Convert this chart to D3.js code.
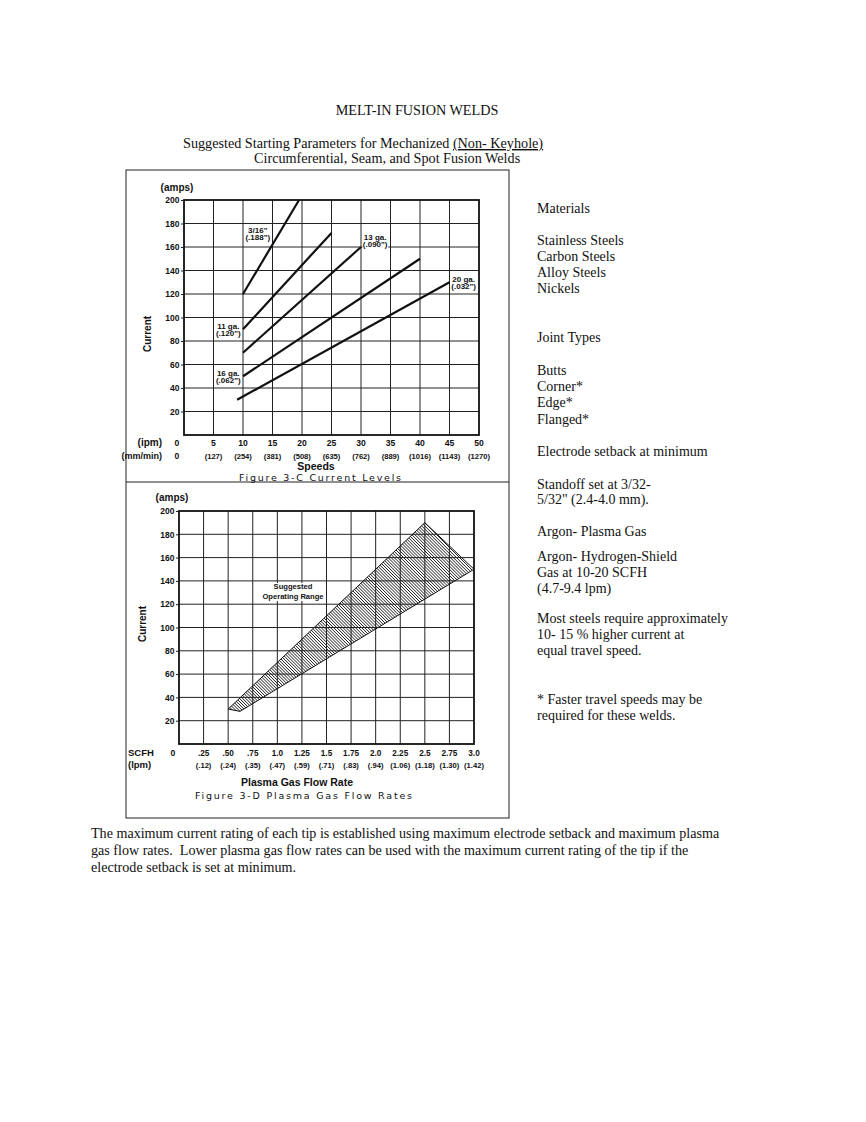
<!DOCTYPE html>
<html>
<head>
<meta charset="utf-8">
<script src="https://cdnjs.cloudflare.com/ajax/libs/d3/7.8.5/d3.min.js"></script>
<style>
  body { margin: 0; background: #fff; }
  svg text { fill: #111; }
  .ser { font-family: "Liberation Serif", "Times New Roman", serif; font-size: 14px; }
  .tick-l { font-family: "Liberation Sans", Arial, sans-serif; font-weight: bold; font-size: 8.5px; }
  .cap { font-family: "DejaVu Sans", sans-serif; font-size: 9.5px; }
  .lbl { font-family: "Liberation Sans", Arial, sans-serif; font-weight: bold; font-size: 8px; }
</style>
</head>
<body>
<div id="page"></div>
<script>
// ---- data: figure 3-C (current vs speed) ----
const speedTicks = [5, 10, 15, 20, 25, 30, 35, 40, 45, 50];
const speedMm = ["(127)", "(254)", "(381)", "(508)", "(635)", "(762)", "(889)", "(1016)", "(1143)", "(1270)"];
const ampTicks = [20, 40, 60, 80, 100, 120, 140, 160, 180, 200];

// each gauge line: start/end speed (ipm) and current (amps)
const gaugeNames = ["3/16\"", "11 ga.", "13 ga.", "16 ga.", "20 ga."];
const gaugeThick = ["(.188\")", "(.120\")", "(.090\")", "(.062\")", "(.032\")"];
const gaugeSpeed = [[10, 19.5], [10, 25], [10, 30], [10, 40], [9, 45]];
const gaugeAmps = [[120, 200], [90, 172], [70, 160], [50, 150], [30, 130]];
// where each label sits (speed, amps of first line)
const gaugeLabelAt = [[12.5, 172], [7.5, 90.6], [32.4, 166], [7.5, 50.6], [47.4, 130.6]];

// ---- data: figure 3-D (current vs plasma gas flow) ----
const flowTicks = [0.25, 0.5, 0.75, 1.0, 1.25, 1.5, 1.75, 2.0, 2.25, 2.5, 2.75, 3.0];
const flowText = [".25", ".50", ".75", "1.0", "1.25", "1.5", "1.75", "2.0", "2.25", "2.5", "2.75", "3.0"];
const flowLpm = ["(.12)", "(.24)", "(.35)", "(.47)", "(.59)", "(.71)", "(.83)", "(.94)", "(1.06)", "(1.18)", "(1.30)", "(1.42)"];
const rangeFlow = [0.5, 2.5, 3.0, 0.62];
const rangeAmps = [30, 190, 150, 28];

const materials = ["Stainless Steels", "Carbon Steels", "Alloy Steels", "Nickels"];
const joints = ["Butts", "Corner*", "Edge*", "Flanged*"];

const W = 866, H = 1122;
const svg = d3.select("#page").append("svg")
    .attr("width", W)
    .attr("height", H);

// hatch for operating range
svg.append("defs").append("pattern")
    .attr("id", "hatch")
    .attr("patternUnits", "userSpaceOnUse")
    .attr("width", 2.2).attr("height", 2.2)
    .attr("patternTransform", "rotate(45)")
    .append("line")
    .attr("x1", 0).attr("y1", 1.1).attr("x2", 2.2).attr("y2", 1.1)
    .attr("stroke", "#222").attr("stroke-width", 0.75);

// ---- page text ----
svg.append("text").attr("class", "ser").attr("x", 417).attr("y", 115)
    .attr("text-anchor", "middle").style("font-size", "14.2px").text("MELT-IN FUSION WELDS");

const sub = svg.append("text").attr("class", "ser").attr("x", 183).attr("y", 148)
    .style("font-size", "14.2px");
sub.append("tspan").text("Suggested Starting Parameters for Mechanized ");
sub.append("tspan").attr("text-decoration", "underline").text("(Non- Keyhole)");
svg.append("text").attr("class", "ser").attr("x", 254).attr("y", 163)
    .style("font-size", "14.2px")
    .text("Circumferential, Seam, and Spot Fusion Welds");

const side = [
  ["Materials", 213], [materials[0], 245], [materials[1], 261], [materials[2], 277], [materials[3], 293],
  ["Joint Types", 342], [joints[0], 375], [joints[1], 391], [joints[2], 407], [joints[3], 424],
  ["Electrode setback at minimum", 456],
  ["Standoff set at 3/32-", 489], ["5/32\" (2.4-4.0 mm).", 504],
  ["Argon- Plasma Gas", 536],
  ["Argon- Hydrogen-Shield", 561], ["Gas at 10-20 SCFH", 577], ["(4.7-9.4 lpm)", 593],
  ["Most steels require approximately", 623], ["10- 15 % higher current at", 639], ["equal travel speed.", 655],
  ["* Faster travel speeds may be", 704], ["required for these welds.", 720]
];
svg.selectAll(".side").data(side).join("text")
    .attr("class", "ser side")
    .attr("x", 537).attr("y", d => d[1])
    .text(d => d[0]);

const para = [
  "The maximum current rating of each tip is established using maximum electrode setback and maximum plasma",
  "gas flow rates.  Lower plasma gas flow rates can be used with the maximum current rating of the tip if the",
  "electrode setback is set at minimum."
];
svg.selectAll(".para").data(para).join("text")
    .attr("class", "ser para")
    .attr("x", 91).attr("y", (d, i) => 838 + i * 17)
    .style("white-space", "pre")
    .style("font-size", "14.1px")
    .text(d => d);

// ---- frames ----
svg.append("rect").attr("x", 126).attr("y", 170).attr("width", 383).attr("height", 648)
    .attr("fill", "none").attr("stroke", "#222").attr("stroke-width", 1);
svg.append("line").attr("x1", 126).attr("x2", 509).attr("y1", 482).attr("y2", 482)
    .attr("stroke", "#222").attr("stroke-width", 1.2);

// ---- helpers ----
function grid(g, x, y, xs, ys) {
    g.selectAll(".gv").data(xs).join("line")
        .attr("x1", d => x(d)).attr("x2", d => x(d))
        .attr("y1", y.range()[0]).attr("y2", y.range()[1])
        .attr("stroke", "#222").attr("stroke-width", 1);
    g.selectAll(".gh").data(ys).join("line")
        .attr("y1", d => y(d)).attr("y2", d => y(d))
        .attr("x1", x.range()[0]).attr("x2", x.range()[1])
        .attr("stroke", "#222").attr("stroke-width", 1);
}

function yAxis(g, y, x0) {
    const ax = g.append("g")
        .attr("transform", `translate(${x0},0)`)
        .call(d3.axisLeft(y).tickValues(ampTicks).tickSize(3).tickPadding(1.5));
    ax.select(".domain").remove();
    ax.selectAll("text").attr("class", "tick-l").attr("fill", "#111");
    ax.selectAll("line").attr("stroke", "#222");
}

// ---- figure 3-C ----
const x1 = d3.scaleLinear().domain([0, 50]).range([184, 479]);
const y1 = d3.scaleLinear().domain([0, 200]).range([435, 200]);
const g1 = svg.append("g");

grid(g1, x1, y1, speedTicks.slice(0, -1), ampTicks.slice(0, -1));
g1.append("rect").attr("x", x1(0)).attr("y", y1(200))
    .attr("width", x1(50) - x1(0)).attr("height", y1(0) - y1(200))
    .attr("fill", "none").attr("stroke", "#111").attr("stroke-width", 1.8);
yAxis(g1, y1, x1(0));

g1.selectAll(".gauge").data(gaugeNames).join("line")
    .attr("class", "gauge")
    .attr("x1", (d, i) => x1(gaugeSpeed[i][0])).attr("x2", (d, i) => x1(gaugeSpeed[i][1]))
    .attr("y1", (d, i) => y1(gaugeAmps[i][0])).attr("y2", (d, i) => y1(gaugeAmps[i][1]))
    .attr("stroke", "#111").attr("stroke-width", 2.2);

gaugeNames.forEach((name, i) => {
    const lx = x1(gaugeLabelAt[i][0]), ly = y1(gaugeLabelAt[i][1]);
    const lg = g1.append("g");
    const bg = lg.append("rect").attr("fill", "#fff");
    const t = lg.append("text").attr("class", "lbl").attr("x", lx).attr("y", ly).attr("text-anchor", "middle");
    t.append("tspan").attr("x", lx).text(name);
    t.append("tspan").attr("x", lx).attr("dy", 7).text(gaugeThick[i]);
    const b = t.node().getBBox();
    bg.attr("x", b.x - 0.5).attr("y", b.y + 1).attr("width", b.width + 1).attr("height", b.height - 1);
});

g1.append("text").attr("class", "lbl").style("font-size", "10px").attr("x", 177).attr("y", 190.5)
    .attr("text-anchor", "middle").text("(amps)");
g1.append("text").attr("class", "lbl").style("font-size", "10px")
    .attr("transform", `translate(151,${y1(86)}) rotate(-90)`)
    .attr("text-anchor", "middle").text("Current");

g1.selectAll(".ipm").data(speedTicks).join("text")
    .attr("class", "lbl").style("font-size", "8.6px")
    .attr("x", d => x1(d)).attr("y", 446).attr("text-anchor", "middle").text(d => d);
g1.selectAll(".mm").data(speedMm).join("text")
    .attr("class", "lbl").style("font-size", "7.6px")
    .attr("x", (d, i) => x1(speedTicks[i])).attr("y", 459).attr("text-anchor", "middle").text(d => d);
g1.append("text").attr("class", "lbl").style("font-size", "8.6px").attr("x", 177).attr("y", 446).attr("text-anchor", "middle").text("0");
g1.append("text").attr("class", "lbl").style("font-size", "8.6px").attr("x", 177).attr("y", 459).attr("text-anchor", "middle").text("0");
g1.append("text").attr("class", "lbl").style("font-size", "10px").attr("x", 162).attr("y", 446).attr("text-anchor", "end").text("(ipm)");
g1.append("text").attr("class", "lbl").style("font-size", "9px").attr("x", 162).attr("y", 459).attr("text-anchor", "end").text("(mm/min)");
g1.append("text").attr("class", "lbl").style("font-size", "10.5px").attr("x", 316).attr("y", 470).attr("text-anchor", "middle").text("Speeds");
g1.append("text").attr("class", "cap").attr("x", 239).attr("y", 481)
    .attr("textLength", 162).attr("lengthAdjust", "spacing").text("Figure 3-C  Current Levels");

// ---- figure 3-D ----
const x2 = d3.scaleLinear().domain([0, 3]).range([179, 474]);
const y2 = d3.scaleLinear().domain([0, 200]).range([744, 511]);
const g2 = svg.append("g");

grid(g2, x2, y2, flowTicks.slice(0, -1), ampTicks.slice(0, -1));

g2.append("path")
    .datum(rangeFlow.map((f, i) => [f, rangeAmps[i]]))
    .attr("d", d3.line().x(d => x2(d[0])).y(d => y2(d[1])).curve(d3.curveLinearClosed))
    .attr("fill", "url(#hatch)")
    .attr("stroke", "#111").attr("stroke-width", 1);

g2.append("rect").attr("x", x2(0)).attr("y", y2(200))
    .attr("width", x2(3) - x2(0)).attr("height", y2(0) - y2(200))
    .attr("fill", "none").attr("stroke", "#111").attr("stroke-width", 1.8);
yAxis(g2, y2, x2(0));

const sg = g2.append("g");
const sbg = sg.append("rect").attr("fill", "#fff");
const st = sg.append("text").attr("class", "lbl").style("font-size", "7.6px")
    .attr("x", 293).attr("y", 589).attr("text-anchor", "middle");
st.append("tspan").attr("x", 293).text("Suggested");
st.append("tspan").attr("x", 293).attr("dy", 10).text("Operating Range");
const sb = st.node().getBBox();
sbg.attr("x", sb.x).attr("y", sb.y + 1).attr("width", sb.width).attr("height", sb.height - 1);

g2.append("text").attr("class", "lbl").style("font-size", "10px").attr("x", 172).attr("y", 500.5)
    .attr("text-anchor", "middle").text("(amps)");
g2.append("text").attr("class", "lbl").style("font-size", "10px")
    .attr("transform", `translate(146,${y2(103)}) rotate(-90)`)
    .attr("text-anchor", "middle").text("Current");

g2.selectAll(".scfh").data(flowText).join("text")
    .attr("class", "lbl").style("font-size", "8.2px")
    .attr("x", (d, i) => x2(flowTicks[i])).attr("y", 756).attr("text-anchor", "middle").text(d => d);
g2.selectAll(".lpm").data(flowLpm).join("text")
    .attr("class", "lbl").style("font-size", "7.6px")
    .attr("x", (d, i) => x2(flowTicks[i])).attr("y", 768).attr("text-anchor", "middle").text(d => d);
g2.append("text").attr("class", "lbl").style("font-size", "8.6px").attr("x", 173).attr("y", 756).attr("text-anchor", "middle").text("0");
g2.append("text").attr("class", "lbl").style("font-size", "9.5px").attr("x", 128).attr("y", 756).text("SCFH");
g2.append("text").attr("class", "lbl").style("font-size", "9.5px").attr("x", 128).attr("y", 768).text("(lpm)");
g2.append("text").attr("class", "lbl").style("font-size", "10.5px").attr("x", 297).attr("y", 786).attr("text-anchor", "middle").text("Plasma Gas Flow Rate");
g2.append("text").attr("class", "cap").attr("x", 195).attr("y", 799)
    .attr("textLength", 217).attr("lengthAdjust", "spacing").text("Figure 3-D  Plasma Gas Flow Rates");
</script>
</body>
</html>
